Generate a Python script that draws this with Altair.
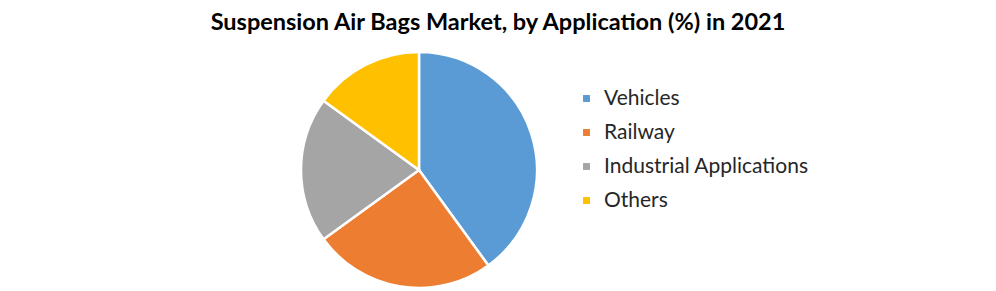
import altair as alt
import pandas as pd

categories = ["Vehicles", "Railway", "Industrial Applications", "Others"]
shares = [40, 25, 20, 15]
colors = ["#5B9BD5", "#ED7D31", "#A5A5A5", "#FFC000"]

df = pd.DataFrame({"Application": categories, "Share": shares, "idx": list(range(len(categories)))})

chart = (
    alt.Chart(df)
    .mark_arc(stroke="white", strokeWidth=2.5)
    .encode(
        theta=alt.Theta("Share:Q", stack=True),
        color=alt.Color(
            "Application:N",
            sort=categories,
            scale=alt.Scale(domain=categories, range=colors),
            legend=alt.Legend(
                title=None,
                orient="none",
                legendX=576,
                legendY=48,
                symbolType="square",
                symbolSize=48,
                symbolStrokeWidth=0,
                labelFont="Lato",
                labelFontSize=21,
                labelColor="#262626",
                labelLimit=0,
                rowPadding=12,
                labelOffset=7,
            ),
        ),
        order=alt.Order("idx:Q"),
        x=alt.value(419),
        y=alt.value(130),
        radius=alt.value(118),
    )
    .properties(
        width=996,
        height=251,
        padding={"top": 40, "left": 0, "right": 0, "bottom": 0},
        autosize=alt.AutoSizeParams(type="none"),
        title=alt.TitleParams(
            "Suspension Air Bags Market, by Application (%) in 2021",
            font="Lato",
            fontSize=23.5,
            fontWeight="bold",
            color="#000000",
            anchor="middle",
            offset=6,
        ),
    )
    .configure_view(stroke=None)
)

chart.save("out.html", embed_options={"renderer": "svg", "actions": False})
